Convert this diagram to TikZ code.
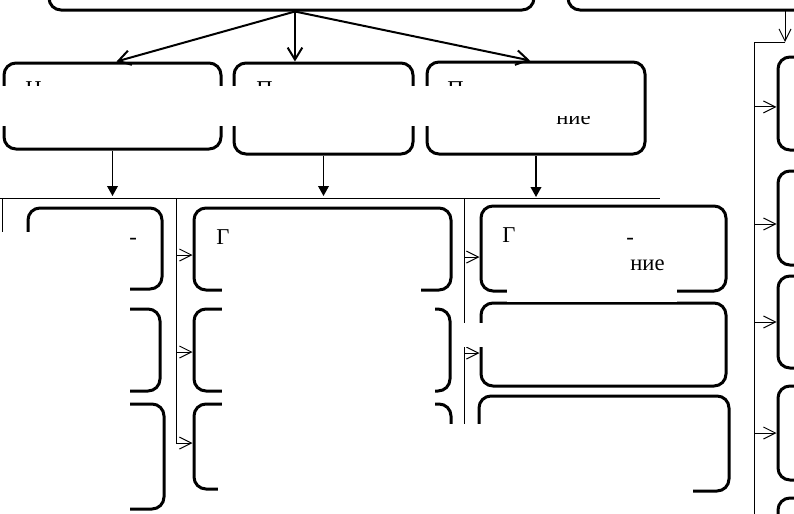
\documentclass[tikz,border=0pt]{standalone}
\usepackage{fontspec}
\setmainfont{Liberation Serif}
\usetikzlibrary{arrows.meta}
\begin{document}
\begin{tikzpicture}[x=0.75pt,y=-0.75pt,
  bx/.style={draw, line width=2.25pt, rounded corners=9pt, rectangle, inner sep=0pt},
  sz/.style 2 args={minimum width=#1*0.75pt, minimum height=#2*0.75pt},
  toparr/.style={line width=1.5pt, -{Straight Barb[length=9pt,width=11pt,line width=1.5pt]}},
  downarr/.style={line width=1.1pt, -{Triangle[length=7.5pt,width=8pt]}},
  sidearr/.style={line width=0.75pt, -{Straight Barb[length=9pt,width=9pt,line width=0.75pt]}},
  thinline/.style={line width=0.75pt},
  mask/.style={fill=white, draw=none},
  frag/.style={font=\fontsize{17}{20}\selectfont, inner sep=0pt, anchor=base west}]
\useasboundingbox (0,0) rectangle (794,514);
\clip (0,0) rectangle (794,514);

% top boxes
\node[bx,sz={485}{50}] (T1) at (291.5,-15) {};
\node[bx,sz={282}{50}] (T2) at (709,-15) {};

% second row
\node[bx,sz={217}{86}] (A) at (112.5,106) {};
\node[bx,sz={179}{91}] (B) at (323.5,108.5) {};
\node[bx,sz={218}{92}] (C) at (536,108) {};

% column 1
\node[bx,sz={134}{81}] (c11) at (95,248.5) {};
\node[bx,sz={132}{82}] (c12) at (94,350) {};
\node[bx,sz={136}{105}] (c13) at (96,456.5) {};
% column 2
\node[bx,sz={257}{82}] (c21) at (322.5,249) {};
\node[bx,sz={256}{82}] (c22) at (322,350) {};
\node[bx,sz={257}{85}] (c23) at (322.5,446.5) {};
% column 3
\node[bx,sz={245}{85}] (c31) at (603.5,248.5) {};
\node[bx,sz={245}{83}] (c32) at (603.5,344.5) {};
\node[bx,sz={250}{95}] (c33) at (604,443.5) {};
% right column
\node[bx,sz={72}{93}] (R1) at (814,103.5) {};
\node[bx,sz={72}{94}] (R2) at (814,218) {};
\node[bx,sz={72}{92}] (R3) at (814,322) {};
\node[bx,sz={72}{94}] (R4) at (814,433) {};
\node[bx,sz={72}{92}] (R5) at (814,544) {};

% arrows from the first top box
\coordinate (src) at ([xshift=2.6pt]T1.south);
\draw[toparr] (src) -- ([xshift=3pt]A.north);
\draw[toparr] (src) -- (src |- B.north);
\draw[toparr] (src) -- ([xshift=-4.5pt]C.north);

% down arrows to the distribution line
\coordinate (dA) at (112.5,196);
\coordinate (dB) at (323.5,196);
\coordinate (dC) at (536,197);
\draw[downarr] (A.south) -- (dA);
\draw[downarr] (B.south) -- (dB);
\draw[downarr] (C.south) -- (dC);
\coordinate (hl) at (0,198);
\coordinate (hr) at (660,198);
\draw[thinline] (hl) -- (hr);

% column 1 feeder
\coordinate (v1t) at (2,198);
\coordinate (a11) at ([yshift=-4.5pt]c11.west);
\coordinate (a12) at ([yshift=-1.5pt]c12.west);
\coordinate (a13) at ([yshift=2.6pt]c13.west);
\draw[thinline] (v1t) -- (v1t |- a13);
\draw[sidearr] (v1t |- a11) -- (a11);
\draw[sidearr] (v1t |- a12) -- (a12);
\draw[sidearr] (v1t |- a13) -- (a13);

% column 2 feeder
\coordinate (v2t) at (176,198);
\coordinate (a21) at ([yshift=-4.5pt]c21.west);
\coordinate (a22) at ([yshift=-1.5pt]c22.west);
\coordinate (a23) at ([yshift=2.6pt]c23.west);
\draw[thinline] (v2t) -- (v2t |- a23);
\draw[sidearr] (v2t |- a21) -- (a21);
\draw[sidearr] (v2t |- a22) -- (a22);
\draw[sidearr] (v2t |- a23) -- (a23);

% column 3 feeder
\coordinate (v3t) at (464,198);
\coordinate (a31) at ([yshift=-6.4pt]c31.west);
\coordinate (a32) at ([yshift=-6.4pt]c32.west);
\coordinate (a33) at (c33.west);
\draw[thinline] (v3t) -- (v3t |- a33);
\draw[sidearr] (v3t |- a31) -- (a31);
\draw[sidearr] (v3t |- a32) -- (a32);
\draw[sidearr] (v3t |- a33) -- (a33);

% right column feeder
\coordinate (t2s) at (785,10);
\coordinate (rtop) at (785,42);
\coordinate (vrt) at (754,42);
\coordinate (vrb) at (754,514);
\draw[sidearr] (t2s) -- (rtop);
\draw[thinline] (rtop) -- (vrt) -- (vrb);
\coordinate (r1) at ([yshift=-2.6pt]R1.west);
\coordinate (r2) at ([yshift=-4.5pt]R2.west);
\coordinate (r3) at (R3.west);
\coordinate (r4) at (R4.west);
\draw[sidearr] (vrt |- r1) -- (r1);
\draw[sidearr] (vrt |- r2) -- (r2);
\draw[sidearr] (vrt |- r3) -- (r3);
\draw[sidearr] (vrt |- r4) -- (r4);

% text fragments partly hidden
\node[frag] (fA) at (25,96) {Н};
\node[frag] (fB) at (256,96) {П};
\node[frag] (fC) at (447,96) {П};
\node[frag] (fC2) at (556,124) {ние};

% masks
\fill[mask] (0,86) rectangle (550,126);
\fill[mask] (550,86) rectangle (640,116);
\fill[mask] (0,232) rectangle (130,514);
\fill[mask] (230,222) rectangle (421,300);
\fill[mask] (222,245) rectangle (421,300);
\fill[mask] (222,300) rectangle (435,424);
\fill[mask] (218,424) rectangle (693,514);
\fill[mask] (507,276) rectangle (677,302);
\fill[mask] (456,323) rectangle (720,347);

% visible text fragments
\node[frag] (g1) at (129,244) {-};
\node[frag] (g2) at (216,244) {Г};
\node[frag] (g3) at (502,242) {Г};
\node[frag] (g4) at (626,244) {-};
\node[frag] (g5) at (630,270) {ние};
\end{tikzpicture}
\end{document}
